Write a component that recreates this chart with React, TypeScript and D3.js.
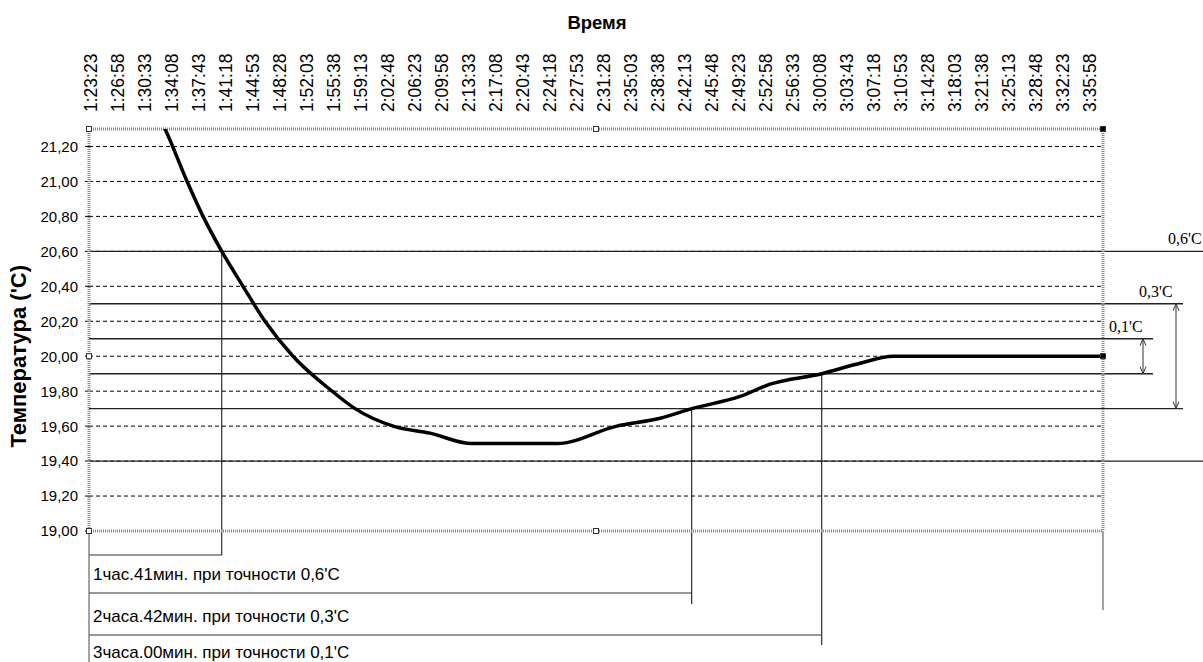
import * as d3 from "d3";

const width = 1203;
const height = 662;
const plot = { left: 89, right: 1103, top: 129, bottom: 531 };

// x axis category labels (every 3:35)
const tickLabels = [
  "1:23:23", "1:26:58", "1:30:33", "1:34:08", "1:37:43", "1:41:18", "1:44:53", "1:48:28",
  "1:52:03", "1:55:38", "1:59:13", "2:02:48", "2:06:23", "2:09:58", "2:13:33", "2:17:08",
  "2:20:43", "2:24:18", "2:27:53", "2:31:28", "2:35:03", "2:38:38", "2:42:13", "2:45:48",
  "2:49:23", "2:52:58", "2:56:33", "3:00:08", "3:03:43", "3:07:18", "3:10:53", "3:14:28",
  "3:18:03", "3:21:38", "3:25:13", "3:28:48", "3:32:23", "3:35:58",
];
const timeRange = ["1:23:09", "3:37:41"];

const yTicks = [19.0, 19.2, 19.4, 19.6, 19.8, 20.0, 20.2, 20.4, 20.6, 20.8, 21.0, 21.2];
const yRange = [19.0, 21.3];

// measured temperature curve
const curveTimes = [
  "1:31:55", "1:33:14", "1:36:10", "1:38:17", "1:40:46", "1:43:35",
  "1:46:30", "1:50:13", "1:55:24", "1:58:27", "2:03:30", "2:08:24",
  "2:13:56", "2:25:13", "2:33:10", "2:38:55", "2:43:07", "2:49:32", "2:53:31",
  "3:00:22", "3:05:27", "3:09:50", "3:37:41",
];
const curveTemps = [
  21.41, 21.3, 21.0, 20.8, 20.6, 20.4,
  20.2, 20.0, 19.8, 19.7, 19.6, 19.56,
  19.5, 19.5, 19.6, 19.645, 19.7, 19.77, 19.84,
  19.9, 19.96, 20.0, 20.0,
];

const nominal = 20.0;
const tolerances = [0.6, 0.3, 0.1];
const toleranceLabels = ["0,6'C", "0,3'C", "0,1'C"];

const markTimes = ["1:40:46", "2:43:07", "3:00:22"];
const markTemps = [20.6, 19.7, 19.9];
const markTexts = [
  "1час.41мин. при точности 0,6'C",
  "2часа.42мин. при точности 0,3'C",
  "3часа.00мин. при точности 0,1'C",
];

// layout for annotations
const tolLineEnd = [1203, 1183, 1153];
const tolArrowX = [null, 1176, 1143];
const tolLabelX = [1168, 1139, 1109];
const markLineY = [555, 593, 635];
const markTextY = [580, 622, 658];
const markDrop = [0, 11, 10];

const sans = "'Liberation Sans', Arial, sans-serif";
const serif = "'Liberation Serif', 'Times New Roman', serif";

const toSec = (s: string) => {
  const [h, m, sec] = s.split(":").map(Number);
  return h * 3600 + m * 60 + sec;
};

const App = () => {
  const x = d3
    .scaleLinear()
    .domain(timeRange.map(toSec))
    .range([plot.left, plot.right]);
  const y = d3.scaleLinear().domain(yRange).range([plot.bottom, plot.top]);

  const pts = curveTimes.map((t, i) => [x(toSec(t)), y(curveTemps[i])] as [number, number]);
  const line = d3.line().curve(d3.curveMonotoneX);
  const fmt = (v: number) => v.toFixed(2).replace(".", ",");

  const arrow = (ax: number, y1: number, y2: number) => {
    const h = 7;
    const w = 3;
    return `M${ax},${y1}L${ax},${y2}M${ax - w},${y1 + h}L${ax},${y1}L${ax + w},${y1 + h}M${ax - w},${y2 - h}L${ax},${y2}L${ax + w},${y2 - h}`;
  };

  return (
    <svg
      width={width}
      height={height}
      style={{ position: "absolute", left: 0, top: 0, background: "#fff" }}
    >
      <defs>
        <clipPath id="plotClip">
          <rect x={plot.left} y={plot.top} width={plot.right - plot.left} height={plot.bottom - plot.top} />
        </clipPath>
      </defs>

      {/* titles */}
      <text x={597} y={29} textAnchor="middle" fontFamily={sans} fontWeight="bold" fontSize={18.5}>
        Время
      </text>
      <text
        transform={`translate(26,${y(nominal)}) rotate(-90)`}
        textAnchor="middle"
        fontFamily={sans}
        fontWeight="bold"
        fontSize={22}
      >
        Температура ('C)
      </text>

      {/* x tick labels */}
      {tickLabels.map((t) => (
        <text
          key={t}
          transform={`translate(${x(toSec(t))},112) rotate(-90)`}
          dy="0.36em"
          fontFamily={sans}
          fontSize={17.5}
        >
          {t}
        </text>
      ))}

      {/* y ticks and dashed grid */}
      {yTicks.map((v) => (
        <g key={v}>
          <line x1={plot.left - 4} x2={plot.left} y1={y(v)} y2={y(v)} stroke="#000" />
          {v > yRange[0] && (
            <line
              x1={plot.left}
              x2={plot.right}
              y1={y(v)}
              y2={y(v)}
              stroke="#000"
              strokeDasharray="4 3"
              strokeWidth={1}
            />
          )}
          <text
            x={78}
            y={y(v)}
            dy="0.36em"
            textAnchor="end"
            fontFamily={sans}
            fontSize={15}
          >
            {fmt(v)}
          </text>
        </g>
      ))}

      {/* tolerance lines */}
      {tolerances.map((tol, i) => (
        <g key={tol}>
          <line x1={plot.left} x2={tolLineEnd[i]} y1={y(nominal + tol)} y2={y(nominal + tol)} stroke="#222" strokeWidth={1.4} />
          <line x1={plot.left} x2={tolLineEnd[i]} y1={y(nominal - tol)} y2={y(nominal - tol)} stroke="#222" strokeWidth={1.4} />
          {tolArrowX[i] !== null && (
            <path d={arrow(tolArrowX[i] as number, y(nominal + tol), y(nominal - tol))} fill="none" stroke="#333" strokeWidth={1} />
          )}
          <text x={tolLabelX[i]} y={y(nominal + tol) - 7} fontFamily={serif} fontSize={16}>
            {toleranceLabels[i]}
          </text>
        </g>
      ))}

      {/* mark lines and bottom notes */}
      {markTimes.map((t, i) => {
        const mx = x(toSec(t));
        return (
          <g key={t}>
            <line x1={mx} x2={mx} y1={y(markTemps[i])} y2={markLineY[i] + markDrop[i]} stroke="#000" strokeWidth={1} />
            <line x1={plot.left} x2={mx} y1={markLineY[i]} y2={markLineY[i]} stroke="#333" strokeWidth={1.2} />
            <text x={93} y={markTextY[i]} fontFamily={sans} fontSize={17}>
              {markTexts[i]}
            </text>
          </g>
        );
      })}

      {/* plot area frame (selected look) */}
      <line x1={plot.left} x2={plot.left} y1={plot.bottom} y2={height} stroke="#666" strokeWidth={1.2} />
      <line x1={plot.right} x2={plot.right} y1={plot.bottom} y2={610} stroke="#666" strokeWidth={1.2} />
      <g stroke="#888" strokeWidth={3} strokeDasharray="1 1" fill="none">
        <line x1={plot.left} x2={plot.right} y1={plot.top} y2={plot.top} />
        <line x1={plot.left} x2={plot.right} y1={plot.bottom} y2={plot.bottom} />
        <line x1={plot.left} x2={plot.left} y1={plot.top} y2={plot.bottom} />
        <line x1={plot.right} x2={plot.right} y1={plot.top} y2={plot.bottom} />
      </g>

      {/* curve */}
      <path d={line(pts) ?? ""} fill="none" stroke="#000" strokeWidth={3.5} clipPath="url(#plotClip)" />

      {/* handles */}
      {[
        [plot.left, plot.top],
        [(plot.left + plot.right) / 2, plot.top],
        [plot.right, plot.top],
        [plot.left, y(nominal)],
        [plot.right, y(nominal)],
        [plot.left, plot.bottom],
        [(plot.left + plot.right) / 2, plot.bottom],
      ].map(([hx, hy], i) => (
        <rect key={i} x={hx - 2.5} y={hy - 2.5} width={5} height={5} fill={i === 2 || i === 4 ? "#000" : "#fff"} stroke="#333" strokeWidth={1} />
      ))}
    </svg>
  );
};

export default App;
